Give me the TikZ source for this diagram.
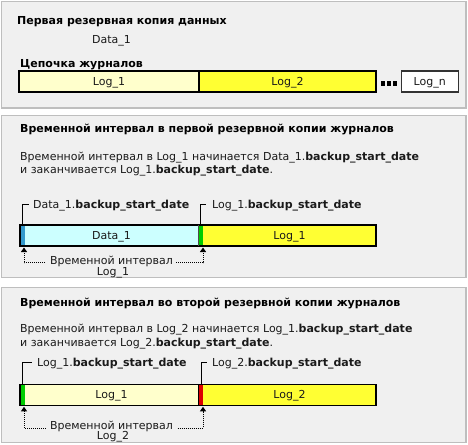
\documentclass[tikz,border=0pt]{standalone}
\usepackage{fontspec}
\setmainfont{DejaVu Sans}
\usetikzlibrary{arrows.meta}
\definecolor{panelbg}{HTML}{F0F0F0}
\definecolor{panelbd}{HTML}{BEBEBE}
\definecolor{ltyel}{HTML}{FFFFCC}
\definecolor{yel}{HTML}{FFFF33}
\definecolor{ltcyan}{HTML}{CCFFFF}
\definecolor{stripblue}{HTML}{3399CC}
\definecolor{stripgreen}{HTML}{00CC00}
\definecolor{stripred}{HTML}{DD0000}
\definecolor{txtc}{HTML}{1A1A1A}
\begin{document}
\begin{tikzpicture}[x=1pt,y=-1pt,
  every node/.style={font=\fontsize{11}{13}\selectfont, text=txtc},
  panel/.style={draw=panelbd, fill=panelbg, line width=1.3pt},
  txt/.style={inner sep=0pt, text height=8pt, text depth=0pt, anchor=west},
  ctxt/.style={inner sep=0pt, text height=8pt, text depth=0pt},
  ttl/.style={txt, font=\fontsize{11}{13}\selectfont\bfseries, text=black},
  seg/.style={inner sep=0pt, text height=8pt, text depth=0pt, minimum height=21pt, outer sep=0pt},
  boxd/.style={seg, draw=black, line width=1.2pt},
  strip/.style={inner sep=0pt, minimum height=21pt, minimum width=5pt, outer sep=0pt},
  barline/.style={draw=black, line width=1.2pt},
  brk/.style={draw=black, line width=1pt},
  intv/.style={draw=black, line width=1pt, dash pattern=on 1pt off 1pt, -{Triangle[length=4.5pt,width=6pt]}}
]
\useasboundingbox (0,0) rectangle (468,444);

% ---------------- Panel 1
\path[panel] (1.3,1.3) rectangle (466,108);
\node[ttl] (t1) at (17,20.3) {Первая резервная копия данных};
\node[txt] (d1lab) at (92,40) {Data\_1};
\node[ttl] (chain) at (20,63.3) {Цепочка журналов};
\node[boxd, fill=ltyel, minimum width=180pt] (p1log1) at (109,81.5) {Log\_1};
\node[boxd, fill=yel, minimum width=177pt] (p1log2) at (287.5,81.5) {Log\_2};
\fill[black] (380.7,81.3) rectangle ++(4,4.2);
\fill[black] (386.7,81.3) rectangle ++(4,4.2);
\fill[black] (392.7,81.3) rectangle ++(4,4.2);
\node[seg, draw=black!80, line width=1.2pt, fill=white, minimum width=57pt] (p1logn) at (429.7,81.5) {Log\_n};

% ---------------- Panel 2
\path[panel] (1.3,115.5) rectangle (466,277.5);
\node[ttl] (t2) at (20,128.3) {Временной интервал в первой резервной копии журналов};
\node[txt] (p2a) at (20,156.2) {Временной интервал в Log\_1 начинается Data\_1.\textbf{backup\_start\_date}};
\node[txt] (p2b) at (20,169.5) {и заканчивается Log\_1.\textbf{backup\_start\_date}.};

\node[seg, fill=ltcyan, minimum width=183pt] (p2data) at (111.5,235.5) {Data\_1};
\node[seg, fill=yel, minimum width=173pt] (p2log1) at (289.5,235.5) {Log\_1};
\node[strip, fill=stripblue] (p2sb) at (22.5,235.5) {};
\node[strip, fill=stripgreen] (p2sg) at (200.5,235.5) {};
\draw[barline] (p2data.north west) rectangle (p2log1.south east);
\draw[draw=black!70, line width=1pt] (p2sg.north west) -- (p2sg.south west);

\node[txt] (p2bl) at (33,204.2) {Data\_1.\textbf{backup\_start\_date}};
\node[txt] (p2br) at (212,204.2) {Log\_1.\textbf{backup\_start\_date}};
\coordinate (p2kl) at (22,225);
\coordinate (p2kr) at (200.7,225);
\draw[brk] (p2kl) |- ([xshift=-4pt]p2bl.west);
\draw[brk] (p2kr) |- ([xshift=-6pt]p2br.west);

\node[ctxt] (p2iv) at (111.5,260.6) {Временной интервал};
\node[ctxt] (p2ivl) at (113,271.3) {Log\_1};
\coordinate (p2al) at (24,247.5);
\coordinate (p2ar) at (203,247.5);
\coordinate (p2dl) at (45,262.5);
\coordinate (p2dr) at (176,262.5);
\draw[intv] (p2dl) -| (p2al);
\draw[intv] (p2dr) -| (p2ar);

% ---------------- Panel 3
\path[panel] (1.3,287.5) rectangle (466,442.5);
\node[ttl] (t3) at (20,302.5) {Временной интервал во второй резервной копии журналов};
\node[txt] (p3a) at (20,328) {Временной интервал в Log\_2 начинается Log\_1.\textbf{backup\_start\_date}};
\node[txt] (p3b) at (20,342) {и заканчивается Log\_2.\textbf{backup\_start\_date}.};

\node[seg, fill=ltyel, minimum width=183pt] (p3log1) at (111.5,394.8) {Log\_1};
\node[seg, fill=yel, minimum width=173pt] (p3log2) at (289.5,394.8) {Log\_2};
\node[strip, fill=stripgreen] (p3sg) at (22.5,394.8) {};
\node[strip, fill=stripred] (p3sr) at (200.5,394.8) {};
\draw[barline] (p3log1.north west) rectangle (p3log2.south east);
\draw[draw=black, line width=1pt] (p3sr.north west) -- (p3sr.south west);

\node[txt] (p3bl) at (37,362.8) {Log\_1.\textbf{backup\_start\_date}};
\node[txt] (p3br) at (212,362.8) {Log\_2.\textbf{backup\_start\_date}};
\coordinate (p3kl) at (22.7,384.3);
\coordinate (p3kr) at (201,384.3);
\draw[brk] (p3kl) |- ([xshift=-5pt]p3bl.west);
\draw[brk] (p3kr) |- ([xshift=-5pt]p3br.west);

\node[ctxt] (p3iv) at (111.5,425) {Временной интервал};
\node[ctxt] (p3ivl) at (113,435.8) {Log\_2};
\coordinate (p3al) at (24,406.8);
\coordinate (p3ar) at (203,406.8);
\coordinate (p3dl) at (45.5,428);
\coordinate (p3dr) at (177.7,428);
\draw[intv] (p3dl) -| (p3al);
\draw[intv] (p3dr) -| (p3ar);
\end{tikzpicture}
\end{document}
